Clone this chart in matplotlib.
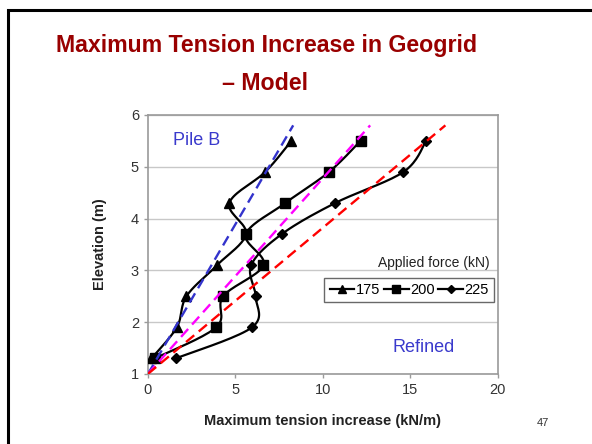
import matplotlib

matplotlib.use("Agg")
import matplotlib.pyplot as plt
import numpy as np
from matplotlib.patches import Rectangle

plt.rcParams["font.family"] = ["Liberation Sans", "DejaVu Sans"]

TITLE_COLOR = "#990000"
LABEL_BLUE = "#3a3acc"
GRID_COLOR = "#c8c8c8"
SPINE_COLOR = "#9a9a9a"

# measured series: (tension kN/m, elevation m)
elev = [5.5, 4.9, 4.3, 3.7, 3.1, 2.5, 1.9, 1.3]
tension_175 = [8.2, 6.7, 4.65, 5.6, 3.95, 2.2, 1.65, 0.2]
tension_200 = [12.15, 10.35, 7.85, 5.6, 6.6, 4.3, 3.9, 0.4]
tension_225 = [15.9, 14.6, 10.7, 7.65, 5.9, 6.15, 5.95, 1.6]

# dashed reference lines
ref_x0 = [0.0, 0.0, 0.0]
ref_y0 = [1.0, 1.0, 1.0]
ref_x1 = [8.3, 12.7, 17.0]
ref_y1 = [5.8, 5.8, 5.8]
ref_colors = ["#3333cc", "#ff00ff", "#ff0000"]

x_ticks = [0, 5, 10, 15, 20]
y_ticks = [1, 2, 3, 4, 5, 6]


def smooth(xs, ys, sx=17.5, sy=51.8, steps=20):
    # Excel-style smoothed line: Catmull-Rom through the points, in pixel scale
    p = np.column_stack([np.asarray(xs) * sx, np.asarray(ys) * sy])
    pts = np.vstack([p[0], p, p[-1]])
    out = []
    t = np.linspace(0, 1, steps)[:, None]
    for i in range(1, len(pts) - 2):
        p0, p1, p2, p3 = pts[i - 1], pts[i], pts[i + 1], pts[i + 2]
        c1 = p1 + (p2 - p0) / 6
        c2 = p2 - (p3 - p1) / 6
        seg = ((1 - t) ** 3) * p1 + 3 * ((1 - t) ** 2) * t * c1 + 3 * (1 - t) * t ** 2 * c2 + t ** 3 * p2
        out.append(seg if i == 1 else seg[1:])
    out = np.vstack(out)
    return out[:, 0] / sx, out[:, 1] / sy


fig = plt.figure(figsize=(5.92, 4.44), dpi=100)
# slide frame, only its left and top edges fall inside the picture
fig.patches.append(Rectangle((0.0135, -0.1), 1.2, 1.078, transform=fig.transFigure,
                             fill=False, edgecolor="black", linewidth=2.2))

fig.text(0.45, 0.883, "Maximum Tension Increase in Geogrid", ha="center", va="baseline",
         fontsize=16.7, fontweight="bold", color=TITLE_COLOR)
fig.text(0.448, 0.797, "– Model", ha="center", va="baseline",
         fontsize=16.7, fontweight="bold", color=TITLE_COLOR)
fig.text(0.906, 0.04, "47", ha="left", va="baseline", fontsize=8, color="#333333")

ax = fig.add_axes([0.25, 0.158, 0.591, 0.583])

series = [
    (tension_175, "^", 7, 6, "175"),
    (tension_200, "s", 7, 5.5, "200"),
    (tension_225, "D", 5, 4.5, "225"),
]
handles = []
for xs, marker, ms, leg_ms, label in series:
    sx_, sy_ = smooth(xs, elev)
    ax.plot(sx_, sy_, color="black", linewidth=1.6, zorder=3)
    ax.plot(xs, elev, linestyle="none", marker=marker, markersize=ms, color="black", zorder=4)
    (h,) = ax.plot([], [], color="black", linewidth=1.6, marker=marker, markersize=leg_ms, label=label)
    handles.append(h)

for x0, y0, x1, y1, c in zip(ref_x0, ref_y0, ref_x1, ref_y1, ref_colors):
    ax.plot([x0, x1], [y0, y1], color=c, linewidth=1.7, linestyle=(0, (4.5, 2.5)), zorder=5)

ax.set_xlim(0, 20)
ax.set_ylim(1, 6)
ax.set_xticks(x_ticks)
ax.set_yticks(y_ticks)
ax.tick_params(axis="both", labelsize=10.5, length=3, width=1, direction="out",
               colors=SPINE_COLOR, labelcolor="#333333")
ax.yaxis.grid(True, color=GRID_COLOR, linewidth=1)
ax.set_axisbelow(True)
for spine in ax.spines.values():
    spine.set_color(SPINE_COLOR)
    spine.set_linewidth(1.2)

ax.set_xlabel("Maximum tension increase (kN/m)", fontsize=10.5, fontweight="bold",
              color="#222222", labelpad=12)
ax.set_ylabel("Elevation (m)", fontsize=10.5, fontweight="bold", color="#222222", labelpad=17)

ax.text(1.45, 5.5, "Pile B", fontsize=13, color=LABEL_BLUE, ha="left", va="center")
ax.text(14.0, 1.5, "Refined", fontsize=13, color=LABEL_BLUE, ha="left", va="center")
ax.text(19.5, 3.14, "Applied force (kN)", fontsize=10, color="#222222", ha="right", va="center")

leg = ax.legend(handles=handles, ncol=3, loc="center right", bbox_to_anchor=(0.989, 0.323),
                fontsize=10.5, frameon=True, fancybox=False, edgecolor="#444444",
                handlelength=1.7, handletextpad=0.1, columnspacing=0.25, borderpad=0.35,
                borderaxespad=0)
leg.get_frame().set_linewidth(1)

fig.savefig("out.png", dpi=100)
